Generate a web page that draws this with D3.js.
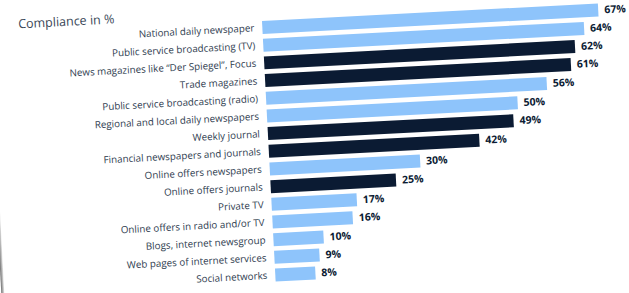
<!DOCTYPE html>
<html>
<head>
<meta charset="utf-8">
<script src="https://cdn.jsdelivr.net/npm/d3@7"></script>
<style>
  html, body { margin: 0; padding: 0; background: #fff; }
  svg { display: block; }
</style>
</head>
<body>
<div id="chart"></div>
<script>
const categories = [
  'National daily newspaper',
  'Public service broadcasting (TV)',
  'News magazines like “Der Spiegel”, Focus',
  'Trade magazines',
  'Public service broadcasting (radio)',
  'Regional and local daily newspapers',
  'Weekly journal',
  'Financial newspapers and journals',
  'Online offers newspapers',
  'Online offers journals',
  'Private TV',
  'Online offers in radio and/or TV',
  'Blogs, internet newsgroup',
  'Web pages of internet services',
  'Social networks'
];
const values = [67, 64, 62, 61, 56, 50, 49, 42, 30, 25, 17, 16, 10, 9, 8];
const highlighted = [false, false, true, true, false, false, true, true, false, true, false, false, false, false, false];

const width = 629;
const height = 293;
const lightBlue = '#8ec4fb';
const navy = '#0b1b33';

const svg = d3.select('#chart')
  .append('svg')
  .attr('width', width)
  .attr('height', height);

// the whole picture is photographed slightly tilted
const g = svg.append('g').attr('transform', 'rotate(-3, 314, 146)');

// page edge shadow
const grad = svg.append('defs').append('linearGradient')
  .attr('id', 'edge').attr('x1', 0).attr('x2', 1);
grad.append('stop').attr('offset', '0%').attr('stop-color', '#6e6e6e');
grad.append('stop').attr('offset', '100%').attr('stop-color', '#e6e6e6');
g.append('rect')
  .attr('x', -6).attr('y', -40)
  .attr('width', 3).attr('height', 400)
  .attr('fill', 'url(#edge)');

const x = d3.scaleLinear().domain([0, 100]).range([268.6, 268.6 + 502]);
const y = d3.scaleBand()
  .domain(categories)
  .range([16.7, 16.7 + 264.4])
  .paddingInner(0.265)
  .paddingOuter(0.1);

g.append('text')
  .attr('x', 25)
  .attr('y', 13)
  .attr('font-family', "'Open Sans', sans-serif")
  .attr('font-size', '12.5px')
  .attr('fill', '#3a4757')
  .text('Compliance in %');

const rows = g.selectAll('.row')
  .data(categories)
  .enter()
  .append('g')
  .attr('class', 'row');

rows.append('rect')
  .attr('x', x(0))
  .attr('y', (d) => y(d))
  .attr('width', (d, i) => x(values[i]) - x(0))
  .attr('height', y.bandwidth())
  .attr('fill', (d, i) => highlighted[i] ? navy : lightBlue);

rows.append('text')
  .attr('x', x(0) - 8)
  .attr('y', (d) => y(d) + y.bandwidth() / 2)
  .attr('dy', '0.35em')
  .attr('text-anchor', 'end')
  .attr('font-family', "'Open Sans', sans-serif")
  .attr('font-size', '9.8px')
  .attr('fill', '#2f3d50')
  .text((d) => d);

rows.append('text')
  .attr('x', (d, i) => x(values[i]) + 6)
  .attr('y', (d) => y(d) + y.bandwidth() / 2)
  .attr('dy', '0.35em')
  .attr('font-family', "'Open Sans', sans-serif")
  .attr('font-size', '10.5px')
  .attr('font-weight', '700')
  .attr('fill', navy)
  .text((d, i) => `${values[i]}%`);
</script>
</body>
</html>
